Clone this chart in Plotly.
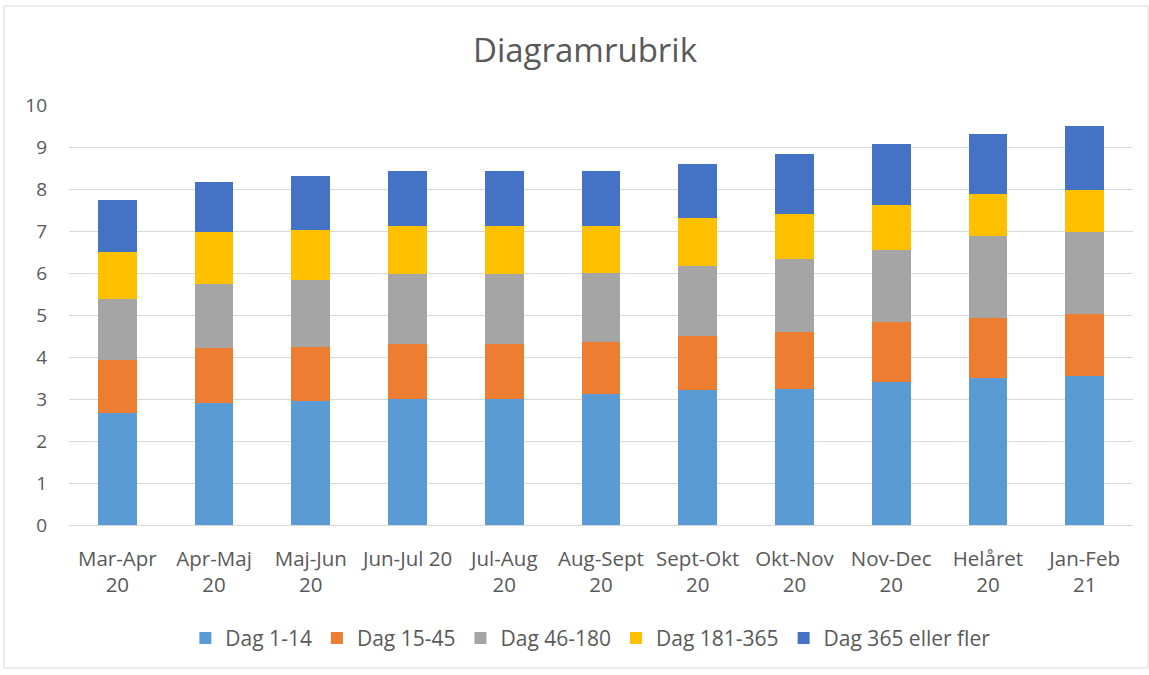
import plotly.graph_objects as go

# Two-month periods (line break where the axis label wraps)
periods = ["Mar-Apr<br>20", "Apr-Maj<br>20", "Maj-Jun<br>20", "Jun-Jul 20",
           "Jul-Aug<br>20", "Aug-Sept<br>20", "Sept-Okt<br>20", "Okt-Nov<br>20",
           "Nov-Dec<br>20", "Helåret<br>20", "Jan-Feb<br>21"]

dag_1_14 = [2.67, 2.91, 2.96, 3.01, 3.01, 3.11, 3.21, 3.25, 3.40, 3.49, 3.54]
dag_15_45 = [1.25, 1.30, 1.29, 1.29, 1.29, 1.24, 1.28, 1.34, 1.43, 1.43, 1.48]
dag_46_180 = [1.47, 1.52, 1.58, 1.67, 1.67, 1.66, 1.67, 1.75, 1.71, 1.95, 1.95]
dag_181_365 = [1.10, 1.24, 1.19, 1.14, 1.14, 1.10, 1.14, 1.06, 1.09, 1.00, 1.00]
dag_365_plus = [1.24, 1.19, 1.28, 1.33, 1.33, 1.33, 1.29, 1.43, 1.43, 1.43, 1.52]

series = [
    ("Dag 1-14", dag_1_14, "#5B9BD5"),
    ("Dag 15-45", dag_15_45, "#ED7D31"),
    ("Dag 46-180", dag_46_180, "#A5A5A5"),
    ("Dag 181-365", dag_181_365, "#FFC000"),
    ("Dag 365 eller fler", dag_365_plus, "#4472C4"),
]

FONT = "'Open Sans', sans-serif"
TXT = "#595959"

fig = go.Figure()
for name, vals, color in series:
    fig.add_trace(go.Bar(x=periods, y=vals, name=name,
                         marker=dict(color=color, line=dict(width=0))))

fig.update_layout(
    barmode="stack",
    bargap=0.6,
    width=1149, height=675,
    margin=dict(l=69, r=16, t=105, b=150),
    paper_bgcolor="white", plot_bgcolor="white",
    font=dict(family=FONT, size=19, color=TXT),
    title=dict(text="Diagramrubrik", x=585 / 1149, xanchor="center",
               y=1 - 50 / 675, yanchor="middle",
               font=dict(family=FONT, size=33, color=TXT)),
    legend=dict(orientation="h", x=0.49, xanchor="center",
                y=-0.27, yanchor="middle", traceorder="normal",
                font=dict(family=FONT, size=21, color=TXT),
                itemwidth=30),
    showlegend=True,
)
fig.update_xaxes(showgrid=False, showline=True, linecolor="#D9D9D9", linewidth=1,
                 ticks="", tickfont=dict(size=20.5, color=TXT), tickangle=0,
                 ticklabelstandoff=15)
fig.update_yaxes(range=[0, 10], dtick=1, showgrid=True, gridcolor="#D9D9D9",
                 gridwidth=1, zeroline=False, showline=False, ticks="",
                 tickfont=dict(size=19, color=TXT), ticklabelstandoff=21)

# Light frame around the chart area
fig.add_shape(type="rect", xref="paper", yref="paper",
              x0=-65 / 1064, x1=1 + 15 / 1064, y0=-143 / 420, y1=1 + 99 / 420,
              line=dict(color="#D9D9D9", width=1), fillcolor="rgba(0,0,0,0)", layer="below")

fig.write_html("out.html")
